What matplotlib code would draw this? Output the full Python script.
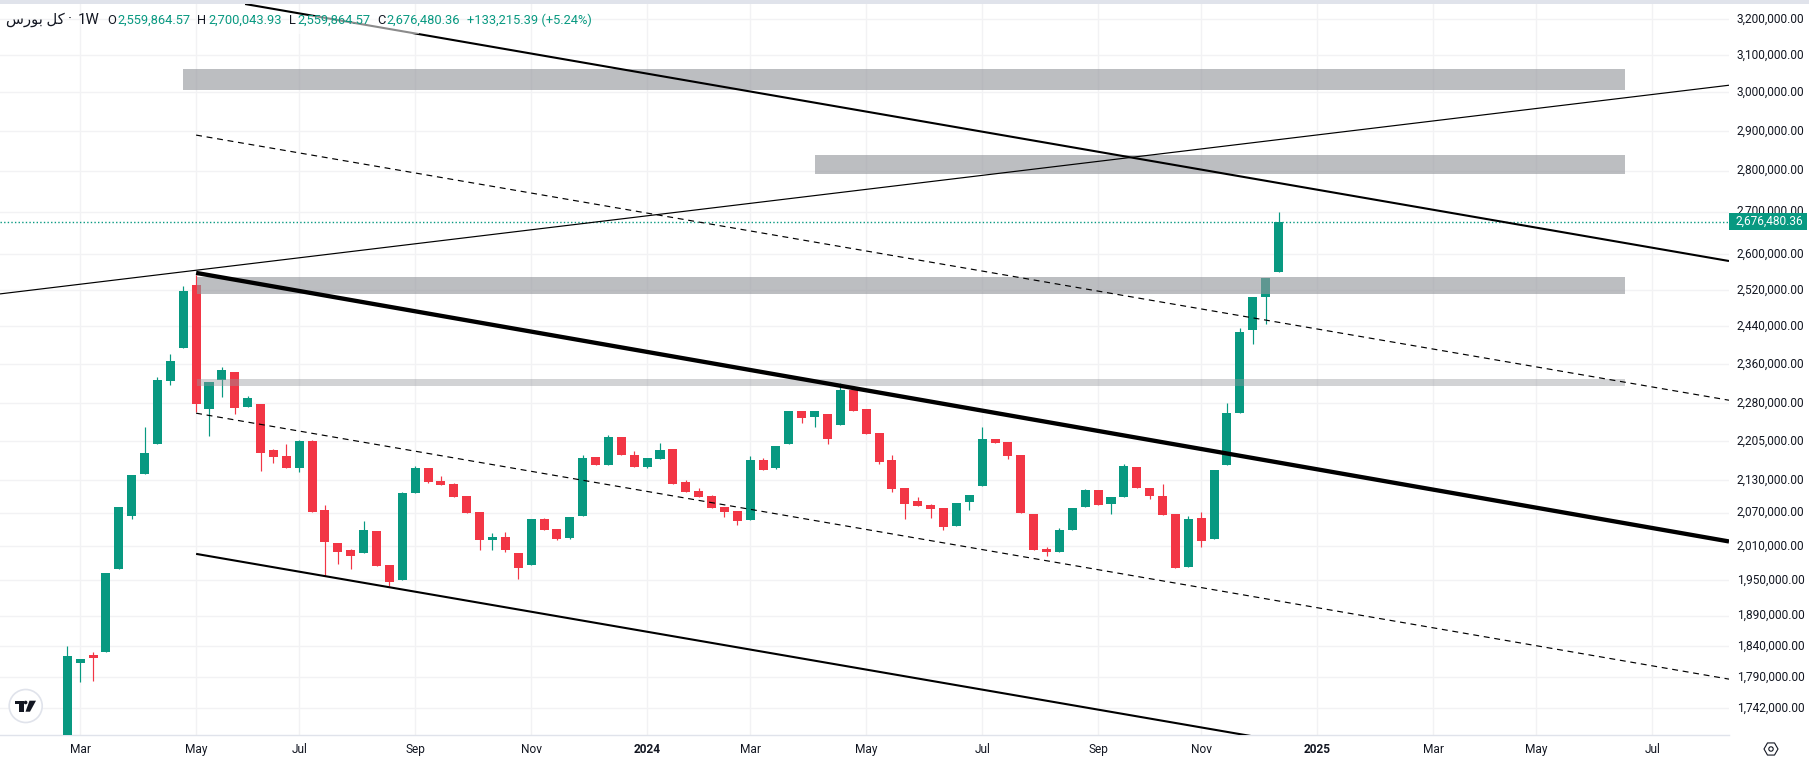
import matplotlib
matplotlib.use('Agg')
import matplotlib.pyplot as plt
from matplotlib.patches import Circle, Polygon, Rectangle
from matplotlib.ticker import NullLocator
from matplotlib.transforms import ScaledTranslation
import numpy as np

plt.rcParams['font.family'] = ['Roboto', 'DejaVu Sans']

# weekly candles, prices in thousands
opens = [1680, 1812, 1825, 1831, 1969, 2064, 2142, 2199, 2325, 2393,
         2531, 2268, 2327, 2344, 2272, 2278, 2187, 2176, 2153, 2205,
         2075, 2015, 2002, 1997, 2036, 1976, 1950, 2106, 2153, 2129,
         2123, 2101, 2071, 2020, 2026, 1997, 1976, 2058, 2040, 2024,
         2064, 2174, 2159, 2213, 2179, 2155, 2170, 2189, 2127, 2110,
         2101, 2080, 2073, 2057, 2168, 2153, 2199, 2264, 2252, 2258,
         2236, 2307, 2268, 2221, 2168, 2116, 2091, 2084, 2078, 2046,
         2089, 2119, 2210, 2204, 2178, 2067, 2004, 2000, 2038, 2080,
         2112, 2086, 2099, 2155, 2116, 2101, 2067, 1973, 2060, 2022,
         2159, 2260, 2432, 2504, 2559.86]
closes = [1824, 1819, 1820, 1962, 2080, 2140, 2181, 2327, 2366, 2517,
          2278, 2323, 2348, 2270, 2290, 2181, 2174, 2153, 2205, 2071,
          2017, 2000, 1993, 2038, 1974, 1947, 2106, 2153, 2127, 2121,
          2099, 2069, 2020, 2026, 2002, 1971, 2058, 2038, 2022, 2062,
          2172, 2159, 2213, 2178, 2155, 2172, 2187, 2123, 2108, 2099,
          2078, 2071, 2055, 2168, 2149, 2196, 2264, 2250, 2264, 2209,
          2307, 2264, 2219, 2164, 2114, 2086, 2082, 2077, 2044, 2088,
          2102, 2210, 2202, 2176, 2069, 2002, 1999, 2038, 2078, 2112,
          2084, 2099, 2157, 2116, 2101, 2066, 1971, 2058, 2018, 2149,
          2260, 2428, 2504, 2547, 2676.48]
highs = [1840, 1819, 1830, 1962, 2080, 2140, 2233, 2333, 2381, 2529,
         2553, 2323, 2354, 2344, 2294, 2278, 2190, 2199, 2207, 2207,
         2084, 2015, 2004, 2055, 2036, 1976, 2108, 2157, 2153, 2138,
         2125, 2101, 2071, 2033, 2035, 1997, 2058, 2060, 2040, 2062,
         2179, 2174, 2217, 2213, 2185, 2172, 2201, 2189, 2131, 2116,
         2102, 2080, 2073, 2176, 2172, 2196, 2264, 2264, 2264, 2258,
         2321, 2313, 2268, 2221, 2178, 2116, 2099, 2086, 2078, 2088,
         2102, 2233, 2210, 2204, 2178, 2067, 2009, 2042, 2078, 2114,
         2112, 2099, 2161, 2155, 2116, 2123, 2067, 2064, 2071, 2149,
         2280, 2437, 2504, 2547, 2700.04]
lows = [1680, 1782, 1784, 1831, 1969, 2058, 2142, 2199, 2317, 2393,
        2262, 2215, 2292, 2258, 2272, 2148, 2163, 2153, 2146, 2071,
        1957, 1978, 1969, 1997, 1974, 1940, 1950, 2106, 2125, 2121,
        2099, 2069, 2002, 2002, 2000, 1952, 1976, 2038, 2020, 2022,
        2064, 2159, 2159, 2178, 2155, 2153, 2170, 2123, 2108, 2099,
        2078, 2062, 2047, 2057, 2149, 2151, 2199, 2240, 2233, 2199,
        2236, 2264, 2219, 2161, 2108, 2058, 2082, 2060, 2038, 2046,
        2075, 2119, 2202, 2170, 2069, 2002, 1993, 2000, 2038, 2080,
        2084, 2067, 2099, 2116, 2095, 2066, 1971, 1973, 2009, 2022,
        2159, 2260, 2402, 2445, 2559.86]

# grey zones: first bar, last bar, price from, price to (thousands)
zone_starts = [8.98, 58.0, 10.1, 10.1]
zone_ends = [120.9, 120.9, 120.9, 120.9]
zone_lows = [3006, 2791, 2510, 2315]
zone_highs = [3063, 2838, 2549, 2329]
zone_alphas = [0.62, 0.62, 0.62, 0.42]

# drawn trend lines: bars and prices at both ends
upper_thin_x, upper_thin_p = [-5.22, 128.96], [2511, 3019]
resist_x, resist_p = [13.8, 128.96], [3243.5, 2585]
main_x, main_p = [10, 128.96], [2558, 2018]
low_x, low_p = [10, 92], [1996, 1699]
mid_x, mid_p = [10, 128.96], [2260, 1787]
mid_up_x, mid_up_p = [10, 128.96], [2889, 2286]

last_price = 2676.48

ytick_values = [3200, 3100, 3000, 2900, 2800, 2700, 2600, 2520, 2440, 2360,
                2280, 2205, 2130, 2070, 2010, 1950, 1890, 1840, 1790, 1742]
xtick_bars = [1, 10, 18, 27, 36, 45, 53, 62, 71, 80, 88, 97, 106, 114, 123]
xtick_labels = ['Mar', 'May', 'Jul', 'Sep', 'Nov', '2024', 'Mar', 'May', 'Jul',
                'Sep', 'Nov', '2025', 'Mar', 'May', 'Jul']

UP = '#089981'
DOWN = '#f23645'
INK = '#131722'
GRID = '#f2f2f4'
EDGE = '#e0e3eb'

opens = np.array(opens) * 1000.0
closes = np.array(closes) * 1000.0
highs = np.array(highs) * 1000.0
lows = np.array(lows) * 1000.0
bars = np.arange(len(opens))

W, H = 1809, 760
fig = plt.figure(figsize=(W / 100, H / 100), dpi=100, facecolor='white')
ax = fig.add_axes([0, (H - 735) / H, 1729 / W, 731 / H])
ax.set_yscale('log')
ax.set_xlim(-5.22, 128.96)
ax.set_ylim(1701000, 3243500)

ax.grid(True, color=GRID, lw=1.0, zorder=0)
ax.set_axisbelow(True)
for s in ['top', 'left', 'right']:
    ax.spines[s].set_visible(False)
ax.spines['bottom'].set_color(EDGE)
ax.spines['bottom'].set_linewidth(1.0)

ax.yaxis.tick_right()
ax.yaxis.set_minor_locator(NullLocator())
ax.set_yticks(np.array(ytick_values) * 1000.0)
ax.set_yticklabels([f'{v * 1000:,.2f}' for v in ytick_values])
ax.tick_params(axis='y', length=0, pad=5.5, labelsize=8.6, labelcolor=INK)
ax.set_xticks(xtick_bars)
ax.set_xticklabels(xtick_labels)
ax.tick_params(axis='x', length=0, pad=6, labelsize=8.6, labelcolor=INK)
for lab in ax.get_xticklabels():
    if lab.get_text() in ('2024', '2025'):
        lab.set_fontweight('bold')
# the price labels sit a little above their grid lines
nudge = ScaledTranslation(0, 1.5 / 100, fig.dpi_scale_trans)
for lab in ax.get_yticklabels():
    lab.set_transform(lab.get_transform() + nudge)

rising = closes >= opens
colors = np.where(rising, UP, DOWN)
ax.vlines(bars, lows, highs, colors=colors, lw=0.85, zorder=2)
ax.bar(bars, np.abs(closes - opens), bottom=np.minimum(opens, closes),
       width=0.7, color=colors, linewidth=0, zorder=3)

for x0, x1, p0, p1, a in zip(zone_starts, zone_ends, zone_lows, zone_highs, zone_alphas):
    ax.add_patch(Rectangle((x0, p0 * 1000), x1 - x0, (p1 - p0) * 1000,
                           facecolor='#94969c', alpha=a, linewidth=0, zorder=4))

ax.axhline(last_price * 1000, color=UP, lw=1.0, ls=(0, (1, 1.6)), zorder=4)


def trend(x, p, **kw):
    ax.plot(x, np.array(p) * 1000.0, color='black', zorder=5,
            solid_capstyle='butt', **kw)


trend(upper_thin_x, upper_thin_p, lw=0.85)
trend(resist_x, resist_p, lw=1.5)
trend(main_x, main_p, lw=3.1)
trend(low_x, low_p, lw=1.5)
trend(mid_x, mid_p, lw=0.85, ls=(0, (5, 4)))
trend(mid_up_x, mid_up_p, lw=0.85, ls=(0, (5, 4)))

# page furniture placed in pixels
top = fig.add_axes([0, 0, 1, 1], facecolor='none')
top.set_xlim(0, W)
top.set_ylim(H, 0)
top.axis('off')

top.add_patch(Rectangle((0, 0), W, 4, color=EDGE, lw=0))
top.add_patch(Rectangle((1729, 213), 78, 17, color=UP, lw=0))
top.text(1803, 221.5, '2,676,480.36', color='white', fontsize=8.6,
         ha='right', va='center')

# matplotlib does no Arabic shaping, so the name goes in visual order with joined forms
top.text(6, 20, '\ufeb1\ufead\ufeee\ufe91 \ufede\ufb90', color=INK, fontsize=10.6, va='center')
top.text(68, 20, '\u00b7', color=INK, fontsize=11, va='center')
top.text(77.5, 20, '1W', color=INK, fontsize=10.8, va='center')

legend_y = 20
legend = [(107, 'O', INK), (117, '2,559,864.57', UP),
          (197.5, 'H', INK), (208, '2,700,043.93', UP),
          (289, 'L', INK), (297, '2,559,864.57', UP),
          (377.5, 'C', INK), (386.5, '2,676,480.36', UP),
          (467, '+133,215.39 (+5.24%)', UP)]
top.add_patch(Rectangle((289, 16), 130, 18, color='white', alpha=0.55, lw=0))
for x, s, c in legend:
    top.text(x, legend_y, s, color=c, fontsize=9.3, va='center')

# TradingView mark
top.add_patch(Circle((25.7, 706), 16.5, facecolor='white', edgecolor=EDGE, lw=1.2))
top.add_patch(Polygon([(15, 700.7), (23.7, 700.7), (23.7, 711.7), (19, 711.7), (19, 704.3), (15, 704.3)],
                      color=INK, lw=0))
top.add_patch(Circle((25.6, 702.5), 1.8, color=INK, lw=0))
top.add_patch(Polygon([(29.5, 700.7), (36, 700.7), (30, 711.7), (25.5, 711.7)], color=INK, lw=0))

# settings icon
ang = np.deg2rad(np.arange(0, 360, 60))
top.add_patch(Polygon(np.c_[1771 + 7 * np.cos(ang), 749 + 7 * np.sin(ang)], closed=True,
                      fill=False, edgecolor=INK, lw=0.8))
top.add_patch(Circle((1771, 749), 2.2, fill=False, edgecolor=INK, lw=0.8))

plt.savefig('out.png', dpi=100)
plt.close()
